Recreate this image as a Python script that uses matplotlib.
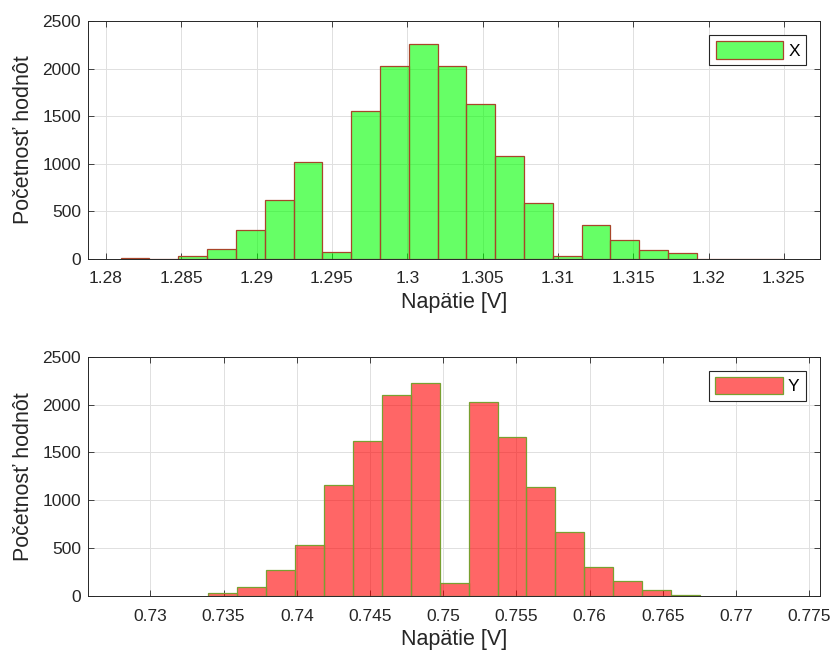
import numpy as np
import matplotlib
matplotlib.use('Agg')
import matplotlib.pyplot as plt

plt.rcParams['font.family'] = ['Liberation Sans', 'DejaVu Sans']

#bin layout
x_start = 1.28097
x_width = 0.0019126
x_counts = [8, 3, 35, 109, 305, 620, 1019, 74, 1552, 2028, 2256, 2024,
            1628, 1085, 585, 28, 354, 200, 98, 63, 0, 5, 5]

y_start = 0.73396
y_width = 0.001975
y_counts = [28, 94, 268, 533, 1160, 1619, 2100, 2228, 139, 2023, 1661,
            1135, 668, 306, 153, 63, 10]

x_ticks = [1.28, 1.285, 1.29, 1.295, 1.3, 1.305, 1.31, 1.315, 1.32, 1.325]
x_ticklabels = ['1.28', '1.285', '1.29', '1.295', '1.3', '1.305', '1.31', '1.315', '1.32', '1.325']
y_ticks = [0.73, 0.735, 0.74, 0.745, 0.75, 0.755, 0.76, 0.765, 0.77, 0.775]
y_ticklabels = ['0.73', '0.735', '0.74', '0.745', '0.75', '0.755', '0.76', '0.765', '0.77', '0.775']
count_ticks = [0, 500, 1000, 1500, 2000, 2500]

dark = '#262626'

fig = plt.figure(figsize=(8.37, 6.58), dpi=100)
ax1 = fig.add_axes([0.1051, 0.6064, 0.8746, 0.3617])
ax2 = fig.add_axes([0.1051, 0.0942, 0.8740, 0.3637])

def draw(ax, start, width, counts, face, edge, name, ticks, labels, xlim):
    edges = start + width*np.arange(len(counts) + 1)
    ax.hist(edges[:-1] + width/2, bins=edges, weights=counts,
            facecolor=face, edgecolor=edge, linewidth=0.9, label=name)
    ax.set_xlim(xlim)
    ax.set_ylim(0, 2500)
    ax.set_xticks(ticks)
    ax.set_xticklabels(labels)
    ax.set_yticks(count_ticks)
    ax.grid(True, color='#e0e0e0', linewidth=0.7)
    ax.set_axisbelow(True)
    ax.tick_params(direction='in', top=True, right=True, length=4,
                   width=0.6, colors=dark, labelsize=12.5)
    ax.tick_params(axis='x', pad=9)
    ax.tick_params(axis='y', pad=5)
    for s in ax.spines.values():
        s.set_color(dark)
        s.set_linewidth(0.7)
    ax.set_xlabel('Napätie [V]', fontsize=15.5, color=dark, labelpad=4)
    ax.set_ylabel('Početnosť hodnôt', fontsize=15.5, color=dark, labelpad=6)
    leg = ax.legend(loc='upper right', fancybox=False, fontsize=12.5,
                    handlelength=3.9, handleheight=1.2, handletextpad=0.3,
                    borderpad=0.35, borderaxespad=0.8, framealpha=1)
    leg.get_frame().set_edgecolor(dark)
    leg.get_frame().set_linewidth(0.8)

draw(ax1, x_start, x_width, x_counts, (0, 1, 0, 0.6), '#a8452a', 'X',
     x_ticks, x_ticklabels, (1.2788, 1.3274))
draw(ax2, y_start, y_width, y_counts, (1, 0, 0, 0.6), '#78a030', 'Y',
     y_ticks, y_ticklabels, (0.72574, 0.7757))

plt.savefig('out.png', dpi=100)
